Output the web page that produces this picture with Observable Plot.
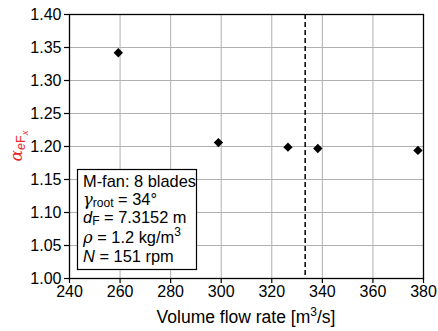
<!DOCTYPE html>
<html><head><meta charset="utf-8">
<script src="https://cdn.jsdelivr.net/npm/d3@7"></script>
<script src="https://cdn.jsdelivr.net/npm/@observablehq/plot@0.6"></script>
<style>body{margin:0;background:#fff}svg{font-family:"Liberation Sans",Arial,sans-serif}</style>
</head><body><div id="chart"></div>
<script>
const flowRate = [259.3, 298.9, 326.4, 338.2, 377.8];
const alpha = [1.342, 1.206, 1.199, 1.197, 1.194];
const designFlow = [333.2];
const xTicks = [240, 260, 280, 300, 320, 340, 360, 380];
const yTicks = [1.00, 1.05, 1.10, 1.15, 1.20, 1.25, 1.30, 1.35, 1.40];

const data = flowRate.map((x, i) => ({x, y: alpha[i]}));

const plot = Plot.plot({
  width: 438, height: 331,
  marginLeft: 69, marginRight: 15, marginTop: 14, marginBottom: 53,
  style: {fontSize: "16px", fontFamily: "Liberation Sans, Arial, sans-serif", color: "black", background: "white"},
  x: {domain: [240, 380], ticks: xTicks, tickFormat: d => d.toString(), label: null},
  y: {domain: [1.0, 1.4], ticks: yTicks, tickFormat: d => d.toFixed(2), label: null},
  marks: [
    Plot.gridX(xTicks, {stroke: "#b0b0b0", strokeOpacity: 1, strokeWidth: 1}),
    Plot.gridY(yTicks, {stroke: "#b0b0b0", strokeOpacity: 1, strokeWidth: 1}),
    Plot.ruleX(designFlow, {stroke: "black", strokeWidth: 1.5, strokeDasharray: "5,3"}),
    Plot.dot(data, {x: "x", y: "y", symbol: "diamond2", r: 4.2, fill: "black", stroke: "none"}),
    Plot.frame({stroke: "black", strokeWidth: 1.3}),
    Plot.axisX(xTicks, {tickSize: 5, tickPadding: 2, fontSize: 16, stroke: "black", strokeWidth: 1.2}),
    Plot.axisY(yTicks, {tickSize: 5, tickPadding: 3, fontSize: 16, stroke: "black", strokeWidth: 1.2})
  ]
});
document.getElementById("chart").appendChild(plot);

const svg = d3.select(plot);
// x-axis label
const xl = svg.append("text").attr("x", 246).attr("y", 323).attr("text-anchor", "middle")
  .attr("font-size", 17.5).attr("fill", "black");
xl.append("tspan").text("Volume flow rate [m");
xl.append("tspan").attr("font-size", 12).attr("dy", -7).text("3");
xl.append("tspan").attr("dy", 7).text("/s]");

// y-axis label (red)
const yl = svg.append("text").attr("transform", "translate(22,146) rotate(-90)")
  .attr("text-anchor", "middle").attr("fill", "#e8262a").attr("font-size", 17);
yl.append("tspan").attr("font-family", "DejaVu Serif, serif").attr("font-style", "italic").text("α");
yl.append("tspan").attr("font-size", 12.5).attr("dy", 3).attr("font-style", "italic").text("e");
yl.append("tspan").attr("font-size", 12.5).text("F");
yl.append("tspan").attr("font-size", 9.5).attr("dy", 2.5).attr("font-style", "italic").text("x");

// legend box
const g = svg.append("g").attr("text-anchor", "start").attr("fill", "black");
g.append("rect").attr("x", 77.5).attr("y", 169.5).attr("width", 119).attr("height", 100)
  .attr("fill", "white").attr("stroke", "black").attr("stroke-width", 1.2);
const fs = 16.4;
const lx = 83;
let t = g.append("text").attr("x", lx).attr("y", 187).attr("font-size", fs).attr("text-anchor", "start");
t.text("M-fan: 8 blades");
t = g.append("text").attr("x", lx).attr("y", 205).attr("font-size", fs).attr("text-anchor", "start");
t.append("tspan").attr("font-family", "DejaVu Serif, serif").attr("font-style", "italic").text("γ");
t.append("tspan").attr("font-size", 12).attr("dy", 2).text("root");
t.append("tspan").attr("dy", -2).text(" = 34°");
t = g.append("text").attr("x", lx).attr("y", 223).attr("font-size", fs).attr("text-anchor", "start");
t.append("tspan").attr("font-style", "italic").text("d");
t.append("tspan").attr("font-size", 12).attr("dy", 2).text("F");
t.append("tspan").attr("dy", -2).text(" = 7.3152 m");
t = g.append("text").attr("x", lx).attr("y", 243).attr("font-size", fs).attr("text-anchor", "start");
t.append("tspan").attr("font-family", "DejaVu Serif, serif").attr("font-style", "italic").text("ρ");
t.append("tspan").text(" = 1.2 kg/m");
t.append("tspan").attr("font-size", 12).attr("dy", -7).text("3");
t = g.append("text").attr("x", lx).attr("y", 262).attr("font-size", fs).attr("text-anchor", "start");
t.append("tspan").attr("font-style", "italic").text("N");
t.append("tspan").text(" = 151 rpm");
</script></body></html>
